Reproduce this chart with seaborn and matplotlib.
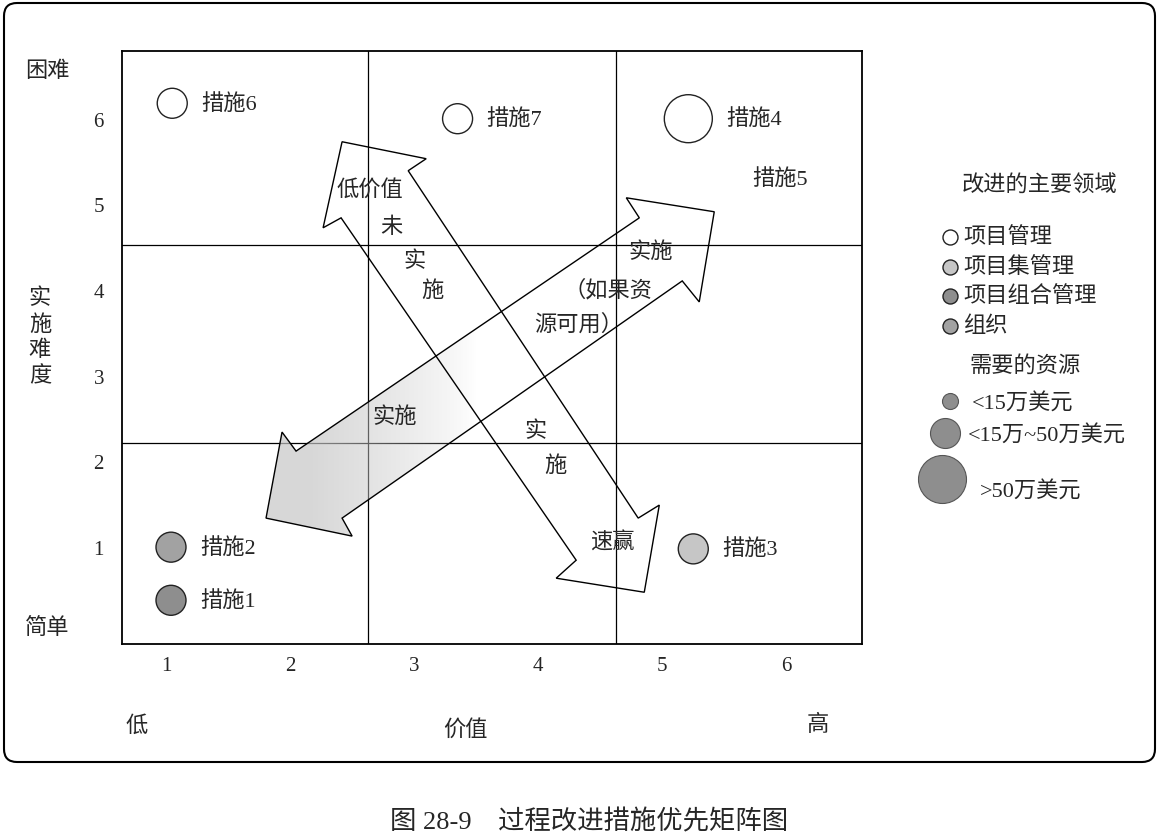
import numpy as np
import pandas as pd
import matplotlib
matplotlib.use("Agg")
import matplotlib.pyplot as plt
from matplotlib.patches import Polygon, FancyBboxPatch
import seaborn as sns

sns.set_style("white")
plt.rcParams['font.family'] = ['Liberation Serif', 'Noto Sans CJK SC']

### DATA
# improvement measures: value (x) vs. implementation difficulty (y)
measure = ['措施1', '措施2', '措施3', '措施4', '措施5', '措施6', '措施7']
value = [1.04, 1.04, 5.25, 5.21, 5.49, 1.05, 3.35]
difficulty = [0.38, 1.00, 0.98, 6.00, 5.30, 6.18, 6.00]
area = ['项目组合管理', '组织', '项目集管理', '项目管理', None, '项目管理', '项目管理']
resource = ['15万~50万', '15万~50万', '15万~50万', '>50万', None, '15万~50万', '15万~50万']

area_names = ['项目管理', '项目集管理', '项目组合管理', '组织']
area_colors = ['white', '#c6c6c6', '#8e8e8e', '#a2a2a2']
resource_levels = ['<15万', '15万~50万', '>50万']
resource_labels = ['<15万美元', '<15万~50万美元', '>50万美元']
resource_radius = [8, 15, 24]   # px

ticks = [1, 2, 3, 4, 5, 6]
value_cuts = [2.63, 4.63]
difficulty_cuts = [2.21, 4.53]

# the two double arrows of the matrix (data coords)
arrow_skip = [(2.419, 5.731), (3.097, 5.533), (2.952, 5.393), (4.806, 1.339), (4.976, 1.491),
              (4.855, 0.474), (4.145, 0.638), (4.306, 0.848), (2.411, 4.843), (2.266, 4.727)]
arrow_do = [(1.806, 1.339), (1.935, 2.343), (2.048, 2.121), (4.815, 4.843), (4.710, 5.077),
            (5.419, 4.914), (5.298, 3.862), (5.161, 4.107), (2.419, 1.339), (2.500, 1.129)]

arrow_texts = [('低价值', 2.645, 5.18), ('未', 2.815, 4.74), ('实', 3.0, 4.34), ('施', 3.145, 3.99),
               ('实施', 4.903, 4.45), ('（如果资', 4.56, 4.01), ('源可用）', 4.33, 3.60),
               ('实施', 2.847, 2.52), ('实', 3.976, 2.355), ('施', 4.137, 1.958), ('速赢', 4.597, 1.058)]

df = pd.DataFrame({'measure': measure, 'value': value, 'difficulty': difficulty,
                   'area': area, 'resource': resource})


def msize(r):
    return (2 * r * 0.72) ** 2


### FIGURE
fig = plt.figure(figsize = (11.64, 8.37), dpi = 100)
ax = fig.add_axes([122 / 1164, 1 - 645 / 837, 740 / 1164, 593 / 837])

# quadrant lines
for c in value_cuts:
    ax.axvline(c, color = 'black', lw = 0.9, zorder = 1)
for c in difficulty_cuts:
    ax.axhline(c, color = 'black', lw = 0.9, zorder = 1)

# shading on the lower part of the "implement" arrow
poly_do = Polygon(arrow_do, closed = True, fill = False, edgecolor = 'black', lw = 1.0, zorder = 3)
ax.add_patch(poly_do)
xs = np.linspace(1.7, 3.8, 300)
alpha = np.clip((3.5 - xs) / 1.35, 0, 1) ** 0.8 * 0.7
img = np.zeros((1, len(xs), 4))
img[..., :3] = 0.78
img[0, :, 3] = alpha
im = ax.imshow(img, extent = [1.7, 3.8, 1.0, 3.8], aspect = 'auto', interpolation = 'bilinear', zorder = 2)
im.set_clip_path(poly_do)

ax.add_patch(Polygon(arrow_skip, closed = True, fill = False, edgecolor = 'black', lw = 1.0, zorder = 3))

for t, x, y in arrow_texts:
    ax.text(x, y, t, fontsize = 16, ha = 'center', va = 'center', zorder = 4)

# measures
pts = df.dropna(subset = ['area'])
sns.scatterplot(data = pts, x = 'value', y = 'difficulty', hue = 'area',
                palette = dict(zip(area_names, area_colors)),
                size = 'resource', sizes = {k: msize(r) for k, r in zip(resource_levels, resource_radius)},
                edgecolor = '#222222', linewidth = 1.0, legend = False, ax = ax, zorder = 5)

rad = dict(zip(resource_levels, resource_radius))
for _, row in df.iterrows():
    r = rad.get(row['resource'], 15)
    ax.annotate(row['measure'], (row['value'], row['difficulty']), xytext = ((r + 14) * 0.72, 0),
                textcoords = 'offset points', fontsize = 16, va = 'center', ha = 'left', zorder = 6)

ax.set_xlim(0.645, 6.61)
ax.set_ylim(-0.13, 6.79)
ax.set_xticks(ticks)
ax.set_yticks(ticks)
ax.tick_params(axis = 'both', length = 0, labelsize = 15)
ax.tick_params(axis = 'x', pad = 9)
ax.tick_params(axis = 'y', pad = 13)
ax.set_xlabel('')
ax.set_ylabel('')
for s in ax.spines.values():
    s.set_color('black')
    s.set_linewidth(1.3)

### OVERLAY (pixel coords): axis names, legend, frame, caption
ov = fig.add_axes([0, 0, 1, 1], zorder = -1)
ov.set_xlim(0, 1164)
ov.set_ylim(837, 0)
ov.axis('off')

ov.add_patch(FancyBboxPatch((4, 4), 1151, 759, boxstyle = 'round,pad=0,rounding_size=13',
                            fill = False, edgecolor = 'black', lw = 1.5))

ov.text(47, 72, '困难', fontsize = 16, ha = 'center', va = 'center')
ov.text(47, 628, '简单', fontsize = 16, ha = 'center', va = 'center')
ov.text(40, 338, '实\n施\n难\n度', fontsize = 16, ha = 'center', va = 'center', linespacing = 1.35)
ov.text(137, 727, '低', fontsize = 16, ha = 'center', va = 'center')
ov.text(465, 730, '价值', fontsize = 16, ha = 'center', va = 'center')
ov.text(818, 725, '高', fontsize = 16, ha = 'center', va = 'center')

# legend: improvement area
ov.text(1040, 186, '改进的主要领域', fontsize = 16, ha = 'center', va = 'center')
for i, (name, col) in enumerate(zip(area_names, area_colors)):
    y = 238 + i * 29.5
    ov.scatter([950], [y], s = msize(7.5), c = col, edgecolors = '#222222', linewidths = 1.0)
    ov.text(963, y, name, fontsize = 16, ha = 'left', va = 'center')

# legend: resources needed
ov.text(1025, 366, '需要的资源', fontsize = 16, ha = 'center', va = 'center')
leg_xy = [(950, 402, 972), (945, 434, 968), (942, 480, 980)]
for (mx, my, tx), r, lab in zip(leg_xy, resource_radius, resource_labels):
    ov.scatter([mx], [my], s = msize(r), c = '#8e8e8e', edgecolors = '#555555', linewidths = 0.8)
    ov.text(tx, my + (12 if r > 20 else 2), lab, fontsize = 16, ha = 'left', va = 'center')

ov.text(589, 822, '图 28-9　过程改进措施优先矩阵图', fontsize = 19, ha = 'center', va = 'center')

fig.savefig('out.png', dpi = 100)
